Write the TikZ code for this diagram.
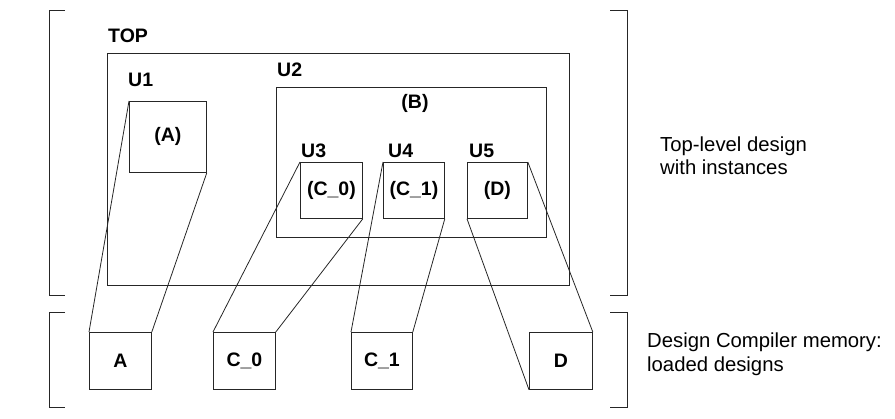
\documentclass[tikz,border=0pt]{standalone}
\usepackage{fontspec}
\setmainfont{Liberation Sans}
\begin{document}
\begin{tikzpicture}[x=1pt,y=-1pt,
  ln/.style={draw=black!85,line width=0.8pt},
  box/.style={ln,rectangle,inner sep=0pt,anchor=north west,font=\fontsize{19.5}{23}\selectfont\bfseries},
  lbl/.style={anchor=base west,inner sep=0pt,font=\fontsize{19.5}{23}\selectfont\bfseries},
  note/.style={anchor=base west,inner sep=0pt,align=left,font=\fontsize{20.3}{24}\selectfont}]
\useasboundingbox (0,0) rectangle (895,419);
% brackets
\draw[ln] (65,10) -- (49,10) -- (49,295) -- (65,295);
\draw[ln] (65,312) -- (49,312) -- (49,407) -- (65,407);
\draw[ln] (610,10) -- (627,10) -- (627,295) -- (610,295);
\draw[ln] (610,312) -- (627,312) -- (627,407) -- (610,407);
% hierarchy
\node[box,minimum width=462pt,minimum height=232pt] (top) at (107,53) {};
\node[lbl] (toplbl) at (108,43) {TOP};
\node[box,minimum width=77pt,minimum height=71pt] (u1) at (129,101) {(A)};
\node[lbl] (u1lbl) at (128,87) {U1};
\node[box,minimum width=270pt,minimum height=150pt] (u2) at (276,87) {};
\node[lbl] (u2lbl) at (277,77) {U2};
\node[lbl,anchor=base] (b) at (415,109) {(B)};
\node[box,minimum width=62pt,minimum height=56pt] (u3) at (300,162) {(C\_0)};
\node[lbl] (u3lbl) at (301,158) {U3};
\node[box,minimum width=61pt,minimum height=56pt] (u4) at (383,162) {(C\_1)};
\node[lbl] (u4lbl) at (388,158) {U4};
\node[box,minimum width=60pt,minimum height=56pt] (u5) at (467,162) {(D)};
\node[lbl] (u5lbl) at (469,158) {U5};
% loaded designs
\node[box,minimum width=62pt,minimum height=57pt] (dA) at (89,332) {A};
\node[box,minimum width=62pt,minimum height=57pt] (dC0) at (213,332) {C\_0};
\node[box,minimum width=61pt,minimum height=57pt] (dC1) at (351,332) {C\_1};
\node[box,minimum width=63pt,minimum height=57pt] (dD) at (529,332) {D};
% connectors
\draw[ln] (u1.north west) -- (dA.north west);
\draw[ln] (u1.south east) -- (dA.north east);
\draw[ln] (u3.north west) -- (dC0.north west);
\draw[ln] (u3.south east) -- (dC0.north east);
\draw[ln] (u4.north west) -- (dC1.north west);
\draw[ln] (u4.south east) -- (dC1.north east);
\draw[ln] (u5.south west) -- (dD.south west);
\draw[ln] (u5.north east) -- (dD.north east);
% notes
\node[note] (n1) at (660,152) {Top-level design};
\node[note] (n1b) at (660,175) {with instances};
\node[note] (n2) at (647,348) {Design Compiler memory:};
\node[note] (n2b) at (647,372) {loaded designs};
\end{tikzpicture}
\end{document}
